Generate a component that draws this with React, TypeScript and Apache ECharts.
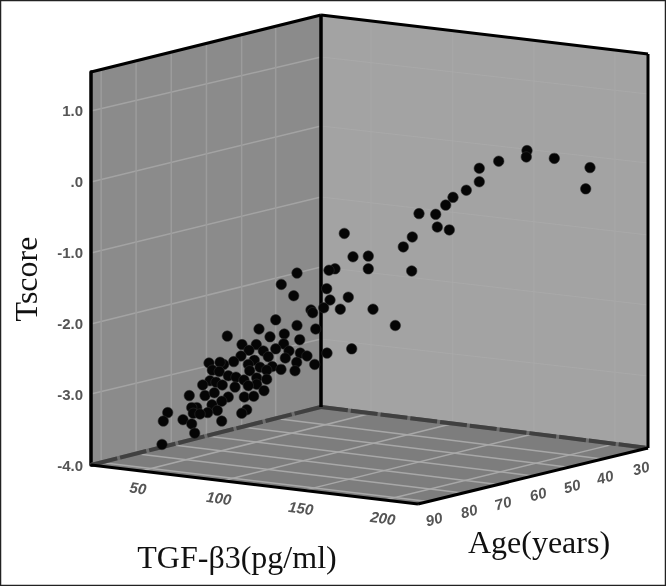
import React, { useEffect, useRef } from "react";
import * as echarts from "echarts";

// Horizontal position of each point as projected on the drawing plane, and its Tscore.
const projected = [527,526.3,498.7,554.3,590,585.7,479.3,479.3,466.3,453,445.7,419,435.7,437.3,449.3,412.3,403.3,344.3,353,368.3,368.3,411.7,335,329,297,281.3,293.7,326.7,330,348.3,311,312.7,323.7,340.3,373,395.3,275.7,297,315.7,259,284.3,227.3,270,299.7,242,256.3,283.7,249,275.7,289,300.3,307,263.3,241,268.3,254.3,285.3,233.7,209,223.7,220,248.3,296.7,314.7,260,272.3,281,295,249.7,266.7,212.3,219.3,228.3,236,256.7,266.7,244,210,202.7,216,222.3,256.7,235,248.3,264,205,214.3,189.3,228.3,244.3,253.7,221.7,212,196.7,191.7,217.3,207.7,193.3,200,246.7,241.7,167.7,163.3,183,221.7,191.7,194.7,162,351.7,327];
const tscore = [0.44,0.35,0.29,0.33,0.20,-0.10,0.19,0.00,-0.12,-0.22,-0.33,-0.45,-0.46,-0.64,-0.68,-0.78,-0.92,-0.73,-1.06,-1.05,-1.23,-1.26,-1.23,-1.25,-1.29,-1.45,-1.61,-1.51,-1.67,-1.63,-1.81,-1.85,-1.78,-1.80,-1.80,-2.03,-1.95,-2.03,-2.08,-2.08,-2.15,-2.18,-2.19,-2.23,-2.30,-2.30,-2.29,-2.38,-2.36,-2.39,-2.42,-2.46,-2.39,-2.46,-2.47,-2.52,-2.49,-2.54,-2.56,-2.58,-2.55,-2.58,-2.55,-2.58,-2.62,-2.61,-2.65,-2.67,-2.67,-2.66,-2.66,-2.68,-2.74,-2.76,-2.77,-2.79,-2.80,-2.81,-2.87,-2.83,-2.87,-2.86,-2.90,-2.88,-2.95,-3.02,-2.98,-3.02,-3.04,-3.04,-3.03,-3.10,-3.15,-3.19,-3.19,-3.23,-3.26,-3.27,-3.28,-3.22,-3.27,-3.26,-3.38,-3.36,-3.38,-3.42,-3.55,-3.71,-2.36,-2.42];

const tgfTicks = ["50", "100", "150", "200"];
const ageTicks = ["90", "80", "70", "60", "50", "40", "30"];

// Box chrome of the fake 3D plot
type P = [number, number];
const A: P = [91, 465], B: P = [321, 407], C: P = [648, 448], D: P = [418, 504];
const topA: P = [91, 72], topB: P = [321, 15], topC: P = [648, 54];
const lerp = (p: P, q: P, t: number): P => [p[0] + (q[0] - p[0]) * t, p[1] + (q[1] - p[1]) * t];
const leftU = [0.044, 0.196, 0.349, 0.502, 0.655, 0.803];
const rightV = [0.153, 0.403, 0.651, 0.899];
const leftWallRows: [number, number][] = [[111, 57], [182, 126], [253, 197], [324, 267], [394, 339]];
const rightWallRows: [number, number][] = [[57, 94], [126, 163], [197, 235], [267, 305], [339, 376]];
const tgfLabelPos: P[] = [[138, 488], [219, 498], [301, 508], [383, 518]];
const ageLabelPos: P[] = [[434, 519], [469, 511], [503, 503], [538, 494], [572, 486], [605, 477], [641, 468]];

const seg = (p: P, q: P, stroke: string, lineWidth: number, z = 0, lineDash?: number[]) => ({
  type: "line", z, silent: true,
  shape: { x1: p[0], y1: p[1], x2: q[0], y2: q[1] },
  style: { stroke, lineWidth, lineCap: "butt", lineDash },
});
const poly = (points: P[], fill: string) => ({ type: "polygon", z: 0, silent: true, shape: { points }, style: { fill } });
const label = (text: string, p: P, rotation: number, font: string, fill: string) => ({
  type: "text", x: p[0], y: p[1], rotation, z: 1, silent: true,
  style: { text, font, fill, align: "center", verticalAlign: "middle", textAlign: "center", textVerticalAlign: "middle" },
});

function buildGraphic() {
  const els: any[] = [];
  els.push(poly([topA, topB, B, A], "#8b8b8b"));
  els.push(poly([topB, topC, C, B], "#a3a3a3"));
  els.push(poly([A, B, C, D], "#7d7d7d"));
  for (const [l, r] of leftWallRows) els.push(seg([91, l], [321, r], "#a3a3a3", 1.5));
  for (const [l, r] of rightWallRows) els.push(seg([321, l], [648, r], "#a9a9a9", 1));
  for (const u of leftU) {
    const floorBack = lerp(A, B, u);
    const wallTop = lerp(topA, topB, u);
    els.push(seg(wallTop, floorBack, "#9c9c9c", 1.5));
    els.push(seg(floorBack, lerp(D, C, u), "#a8a8a8", 1.5));
  }
  for (const v of rightV) {
    const floorBack = lerp(B, C, v);
    const wallTop = lerp(topB, topC, v);
    els.push(seg(wallTop, floorBack, "#a9a9a9", 1));
    els.push(seg(floorBack, lerp(A, D, v), "#a8a8a8", 1.5));
  }
  els.push(seg(A, B, "#6e6e6e", 4, 1));
  els.push(seg(B, C, "#6e6e6e", 4, 1));
  els.push(seg(A, B, "#404040", 4, 1, [27, 3]));
  els.push(seg(B, C, "#404040", 4, 1, [27, 3]));
  els.push(seg(topA, topB, "#000", 3, 1));
  els.push(seg(topB, topC, "#000", 3, 1));
  els.push(seg(topB, B, "#000", 3.5, 1));
  els.push(seg(topC, C, "#000", 3, 1));
  els.push(seg(A, D, "#000", 3, 1));
  els.push(seg(D, C, "#000", 3, 1));
  tgfTicks.forEach((t, i) => els.push(label(t, tgfLabelPos[i], -0.14, "italic bold 15px 'Liberation Sans'", "#555")));
  ageTicks.forEach((t, i) => els.push(label(t, ageLabelPos[i], 0.26, "italic bold 15px 'Liberation Sans'", "#555")));
  els.push(label("Tscore", [26, 279], Math.PI / 2, "32px 'Liberation Serif'", "#111"));
  els.push(label("TGF-β3(pg/ml)", [237, 557], 0, "32px 'Liberation Serif'", "#111"));
  els.push(label("Age(years)", [539, 542], 0, "32px 'Liberation Serif'", "#111"));
  els.push({ type: "rect", z: 1, silent: true, shape: { x: 0.5, y: 0.5, width: 665, height: 585 }, style: { fill: "none", stroke: "#222", lineWidth: 1.5 } });
  return els;
}

export default function App() {
  const ref = useRef<HTMLDivElement>(null);
  useEffect(() => {
    const chart = echarts.init(ref.current!, null, { renderer: "svg" });
    chart.setOption({
      animation: false,
      backgroundColor: "#fff",
      grid: { left: 91, right: 18, top: 72, bottom: 121 },
      xAxis: { type: "value", min: 91, max: 648, show: false },
      yAxis: {
        type: "value", min: -4, max: 1.55, interval: 1,
        axisLine: { show: true, onZero: false, lineStyle: { color: "#000", width: 3.5 } },
        axisTick: { show: false },
        splitLine: { show: false },
        axisLabel: {
          margin: 8, color: "#555", fontFamily: "Liberation Sans", fontWeight: "bold", fontSize: 15,
          showMaxLabel: false, verticalAlignMinLabel: "middle",
          formatter: (v: number) => (v === 0 ? ".0" : v.toFixed(1)),
        },
      },
      graphic: { elements: buildGraphic() },
      series: [{
        type: "scatter",
        z: 5,
        data: projected.map((x, i) => [x, tscore[i]]),
        symbol: "circle",
        symbolSize: 10.5,
        itemStyle: { color: "#050505", opacity: 1, borderColor: "rgba(50,50,50,0.55)", borderWidth: 1 },
      }],
    });
    return () => chart.dispose();
  }, []);
  return <div ref={ref} style={{ position: "absolute", left: 0, top: 0, width: 666, height: 586, filter: "blur(0.6px)" }} />;
}
